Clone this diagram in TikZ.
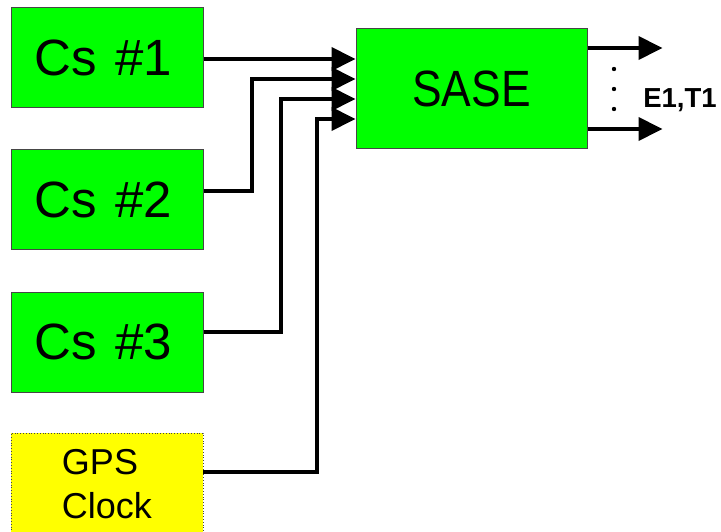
\documentclass[tikz,border=0pt]{standalone}
\usepackage{fontspec}
\setmainfont{Liberation Sans}
\usetikzlibrary{arrows.meta}
\definecolor{boxgreen}{RGB}{0,255,0}
\definecolor{boxyellow}{RGB}{255,255,0}
\definecolor{edgegray}{RGB}{70,70,70}
\tikzset{
  csbox/.style={draw=edgegray, line width=1pt, fill=boxgreen, minimum width=192pt, minimum height=100pt, inner sep=0pt, font=\fontsize{51}{60}\selectfont},
  gpsbox/.style={draw=edgegray, dotted, line width=0.8pt, fill=boxyellow, minimum width=192pt, minimum height=102pt, inner sep=0pt, align=center, font=\fontsize{36}{44}\selectfont},
  sasebox/.style={draw=edgegray, line width=1pt, fill=boxgreen, minimum width=231pt, minimum height=120pt, inner sep=0pt, font=\fontsize{51}{60}\selectfont},
  wire/.style={line width=4pt, line join=miter},
  arr/.style={wire, -{Triangle[length=24pt,width=23pt]}},
}
\begin{document}
\begin{tikzpicture}[x=1pt,y=-1pt]
\useasboundingbox (0,0) rectangle (721,532);
\clip (0,0) rectangle (721,532);
\node[csbox] (cs1) at (107,58) {Cs\hspace{18pt}\#1\hspace*{7pt}};
\node[csbox] (cs2) at (107,200) {Cs\hspace{18pt}\#2\hspace*{7pt}};
\node[csbox] (cs3) at (107,342) {Cs\hspace{18pt}\#3\hspace*{7pt}};
\node[gpsbox] (gps) at (107,484) {GPS\hspace*{14pt}\\Clock};
\node[sasebox] (sase) at (471.5,89) {\scalebox{0.87}[1]{SASE}};
\coordinate (s1) at ([yshift=30pt]sase.west);
\coordinate (s2) at ([yshift=10pt]sase.west);
\coordinate (s3) at ([yshift=-10pt]sase.west);
\coordinate (s4) at ([yshift=-30pt]sase.west);
\draw[arr] (cs1.east |- s1) -- (s1);
\draw[arr] ([yshift=9pt]cs2.east) -- ++(48,0) |- (s2);
\draw[arr] ([yshift=10pt]cs3.east) -- ++(77,0) |- (s3);
\draw[arr] ([yshift=12pt]gps.east) -- ++(114,0) |- (s4);
\coordinate (o1) at ([yshift=41pt]sase.east);
\coordinate (o2) at ([yshift=-40pt]sase.east);
\draw[arr] (o1) -- ++(75,0);
\draw[arr] (o2) -- ++(75,0);
\foreach \yy in {69,89,109} \fill (614,\yy) circle (2.2pt);
\node[anchor=base, inner sep=0pt, font=\bfseries\fontsize{27.5}{30}\selectfont] (lbl) at (680,108) {E1,T1};
\end{tikzpicture}
\end{document}
